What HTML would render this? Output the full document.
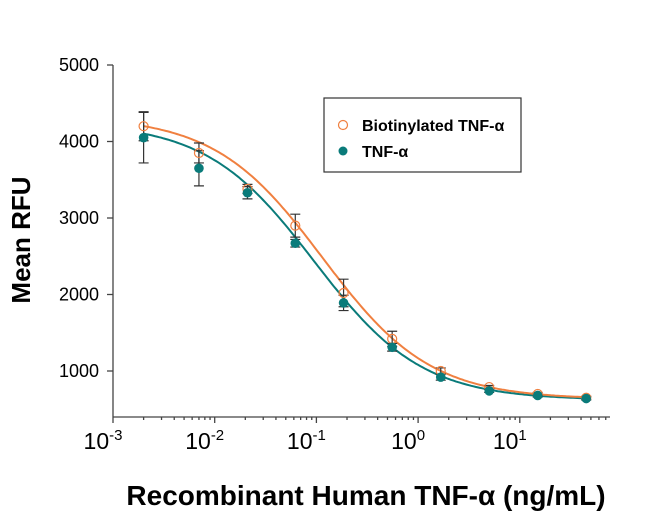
<!DOCTYPE html>
<html><head><meta charset="utf-8"><style>
body{margin:0;background:#fff;}
svg{display:block;font-family:"Liberation Sans",Arial,sans-serif;}
</style></head><body>
<svg id="s" width="650" height="516" viewBox="0 0 650 516">
<rect width="650" height="516" fill="#fff"/>
<g id="ax" stroke="#444" stroke-width="1.3" fill="none"></g>
<g id="lab" font-size="18" fill="#000"></g>
<g id="plot"></g>
<text x="30" y="240" font-size="26" font-weight="bold" transform="rotate(-90 30 240)" text-anchor="middle">Mean RFU</text>
<text x="366" y="505" font-size="28" font-weight="bold" text-anchor="middle">Recombinant Human TNF-α (ng/mL)</text>
<rect x="324" y="98" width="197" height="74" fill="#fff" stroke="#333" stroke-width="1.2"/>
<circle cx="343" cy="125" r="4.5" fill="none" stroke="#F08040" stroke-width="1.2"/>
<text x="362" y="131" font-size="16" font-weight="bold">Biotinylated TNF-α</text>
<circle cx="343" cy="151" r="4.5" fill="#0A7B7A"/>
<text x="362" y="157" font-size="16" font-weight="bold">TNF-α</text>
</svg>
<script>
const NS="http://www.w3.org/2000/svg";
function X(v){return 113+101.7*(Math.log10(v)+3);}
function Y(v){return 447.5-0.0765*v;}
function el(p,t,a,txt){const e=document.createElementNS(NS,t);for(const k in a)e.setAttribute(k,a[k]);if(txt!==undefined)e.textContent=txt;document.getElementById(p).appendChild(e);return e;}
el("ax","line",{x1:113,y1:65,x2:113,y2:417});
el("ax","line",{x1:113,y1:417,x2:610,y2:417});
for(let v=1000;v<=5000;v+=1000){el("ax","line",{x1:107,y1:Y(v),x2:113,y2:Y(v)});el("lab","text",{x:99,y:Y(v)+6,"text-anchor":"end"},v);}
for(let d=-3;d<=1;d++){const x=X(Math.pow(10,d));el("ax","line",{x1:x,y1:417,x2:x,y2:423});
 const t=el("lab","text",{x:x-10,y:449,"text-anchor":"middle","font-size":"23"},"10");
 const s=document.createElementNS(NS,"tspan");s.setAttribute("dy","-9");s.setAttribute("font-size","15");s.textContent=d;t.appendChild(s);
 for(let m=2;m<=9;m++){const xm=X(m*Math.pow(10,d));if(xm<610)el("ax","line",{x1:xm,y1:417,x2:xm,y2:420});}}
const xs=[0.002,0.007,0.021,0.062,0.185,0.556,1.67,5,15,45];
const teal=[4050,3650,3330,2670,1890,1310,920,740,680,640];
const tealE=[330,230,80,50,100,50,40,20,20,20];
const org=[4200,3850,3380,2900,2020,1420,1000,790,700,650];
const orgE=[190,130,60,150,180,100,40,20,20,20];
function curve(top,bot,ec,h,col){let d="";for(let i=0;i<=200;i++){const lx=Math.log10(0.002)+i*(Math.log10(45)-Math.log10(0.002))/200;const v=bot+(top-bot)/(1+Math.pow(Math.pow(10,lx)/ec,h));d+=(i?"L":"M")+X(Math.pow(10,lx)).toFixed(1)+","+Y(v).toFixed(1);}
 el("plot","path",{d:d,fill:"none",stroke:col,"stroke-width":2});}
curve(4250,620,0.095,0.82,"#0A7B7A");
curve(4330,630,0.115,0.82,"#F08040");
function eb(x,v,e){const px=X(x);el("plot","path",{d:`M${px},${Y(v-e)}V${Y(v+e)}M${px-5},${Y(v-e)}h10M${px-5},${Y(v+e)}h10`,stroke:"#333","stroke-width":1.2,fill:"none"});}
xs.forEach((x,i)=>{eb(x,teal[i],tealE[i]);eb(x,org[i],orgE[i]);});
xs.forEach((x,i)=>{el("plot","circle",{cx:X(x),cy:Y(org[i]),r:4.5,fill:"none",stroke:"#F08040","stroke-width":1.2});});
xs.forEach((x,i)=>{el("plot","circle",{cx:X(x),cy:Y(teal[i]),r:4.8,fill:"#0A7B7A"});});
</script>
</body></html>
